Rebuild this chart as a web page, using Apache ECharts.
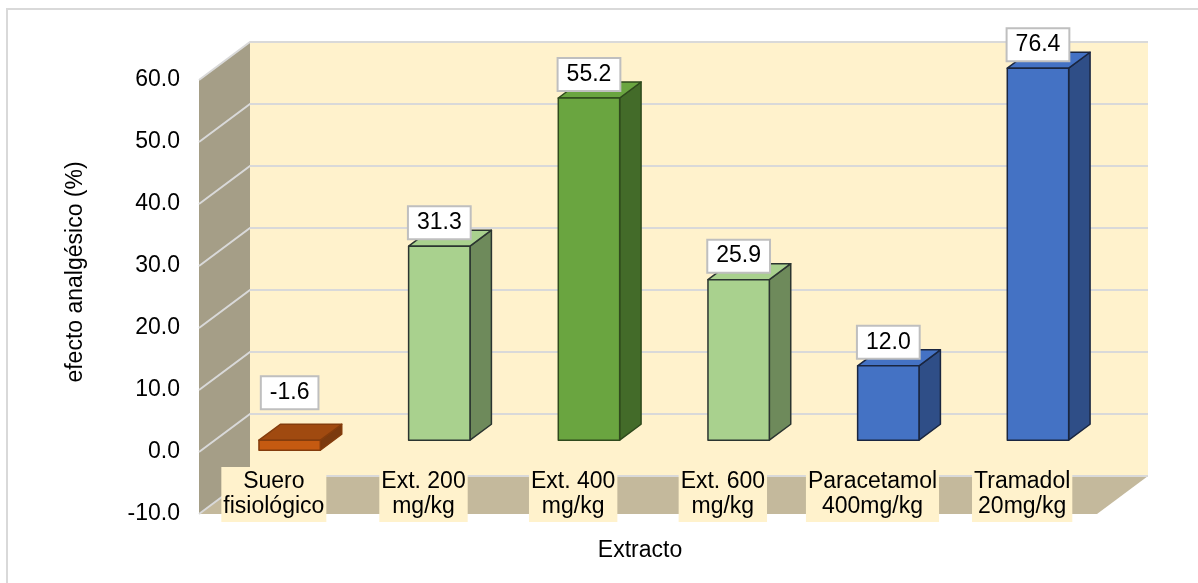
<!DOCTYPE html>
<html>
<head>
<meta charset="utf-8">
<script src="https://cdn.jsdelivr.net/npm/echarts@6/dist/echarts.min.js"></script>
<style>
  html, body { margin: 0; padding: 0; background: #fff; }
  #chart { width: 1198px; height: 583px; }
</style>
</head>
<body>
<div id="chart"></div>
<script>
// Treatments and their analgesic effect (%)
const categories = ['Suero\nfisiológico', 'Ext. 200\nmg/kg', 'Ext. 400\nmg/kg', 'Ext. 600\nmg/kg', 'Paracetamol\n400mg/kg', 'Tramadol\n20mg/kg'];
const values = [-1.6, 31.3, 55.2, 25.9, 12.0, 76.4];

// Value axis range
const yMin = -10;
const yMax = 60;
const yStep = 10;

// Face colours for each bar
const frontColors = ['#c55a11', '#a9d18e', '#6aa540', '#a9d18e', '#4472c4', '#4472c4'];
const topColors   = ['#a04a10', '#a9d18e', '#6aa540', '#a9d18e', '#4472c4', '#4472c4'];
const sideColors  = ['#7b3a0e', '#6e8a5b', '#436b29', '#6e8a5b', '#2f4e87', '#2f4e87'];
const edgeColors  = ['#843c0c', '#2b3530', '#2f4a1d', '#2b3530', '#1a2640', '#1a2640'];

const FONT = "'Liberation Sans', Arial, sans-serif";
const FONT_SIZE = 23;
const DEPTH = [51, -38];          // pixel offset from front plane to back wall
const BAR_FRONT = 0.31;           // bar front face depth (fraction of DEPTH)
const BAR_BACK = 0.73;            // bar back face depth
const BAR_WIDTH = 0.41;           // bar width as share of category band

function clampV(v) { return Math.max(yMin, Math.min(yMax, v)); }

// Left wall, back wall, floor and gridlines of the 3D box
function renderWalls(params, api) {
  const cs = params.coordSys;
  const x0 = cs.x, x1 = cs.x + cs.width;
  const yTop = api.coord([0, yMax])[1];
  const yBot = api.coord([0, yMin])[1];
  const dx = DEPTH[0], dy = DEPTH[1];
  const children = [
    { type: 'polygon', shape: { points: [[x0, yTop], [x0 + dx, yTop + dy], [x0 + dx, yBot + dy], [x0, yBot]] },
      style: { fill: '#a59e87' } },
    { type: 'rect', shape: { x: x0 + dx, y: yTop + dy, width: cs.width, height: yBot - yTop },
      style: { fill: '#fff2cc' } },
    { type: 'polygon', shape: { points: [[x0, yBot], [x1, yBot], [x1 + dx, yBot + dy], [x0 + dx, yBot + dy]] },
      style: { fill: '#c4b99c' } }
  ];
  for (let v = yMin; v <= yMax; v += yStep) {
    const y = api.coord([0, v])[1];
    children.push({
      type: 'polyline',
      shape: { points: [[x0, y], [x0 + dx, y + dy], [x1 + dx, y + dy]] },
      style: { stroke: '#d9d9d9', lineWidth: 2, fill: null }
    });
  }
  return { type: 'group', children: children };
}

// One 3D bar (front, top and side faces) with its value label
function renderBar(params, api) {
  const i = api.value(0);
  const v = api.value(1);
  const k = params.dataIndex;
  const band = api.size([1, 0])[0];
  const w = band * BAR_WIDTH;
  const cx = api.coord([i, 0])[0];
  const fdx = DEPTH[0] * BAR_FRONT, fdy = DEPTH[1] * BAR_FRONT;
  const bdx = DEPTH[0] * (BAR_BACK - BAR_FRONT), bdy = DEPTH[1] * (BAR_BACK - BAR_FRONT);
  const yHi = api.coord([i, clampV(Math.max(v, 0))])[1] + fdy;
  const yLo = api.coord([i, clampV(Math.min(v, 0))])[1] + fdy;
  const xl = cx - w / 2 + fdx, xr = cx + w / 2 + fdx;
  const edge = { stroke: edgeColors[k], lineWidth: 1.5, lineJoin: 'round' };
  const labelY = (v >= 0 ? yHi : yHi - 24) - 8;
  return {
    type: 'group',
    children: [
      { type: 'polygon', shape: { points: [[xr, yHi], [xr + bdx, yHi + bdy], [xr + bdx, yLo + bdy], [xr, yLo]] },
        style: Object.assign({ fill: sideColors[k] }, edge) },
      { type: 'polygon', shape: { points: [[xl, yHi], [xr, yHi], [xr + bdx, yHi + bdy], [xl + bdx, yHi + bdy]] },
        style: Object.assign({ fill: topColors[k] }, edge) },
      { type: 'rect', shape: { x: xl, y: yHi, width: w, height: yLo - yHi },
        style: Object.assign({ fill: frontColors[k] }, edge) },
      { type: 'text', x: cx + fdx, y: labelY, z2: 50,
        style: {
          text: v.toFixed(1), font: FONT_SIZE + 'px ' + FONT, fill: '#000',
          align: 'center', verticalAlign: 'bottom',
          backgroundColor: '#fff', borderColor: '#bfbfbf', borderWidth: 2,
          padding: [4, 8, 4, 8]
        } }
    ]
  };
}

const chart = echarts.init(document.getElementById('chart'), null, { renderer: 'canvas' });
chart.setOption({
  animation: false,
  backgroundColor: '#fff',
  graphic: [{
    type: 'rect', z: -10, silent: true,
    shape: { x: 7, y: 9, width: 1210, height: 600 },
    style: { fill: null, stroke: '#d9d9d9', lineWidth: 2 }
  }],
  grid: { left: 199, right: 101, top: 80, bottom: 69 },
  xAxis: {
    type: 'category',
    z: 10,
    data: categories,
    axisLine: { show: false },
    axisTick: { show: false },
    splitLine: { show: false },
    axisLabel: {
      interval: 0, margin: -47,
      fontFamily: FONT, fontSize: FONT_SIZE, color: '#000', lineHeight: 25,
      backgroundColor: '#fff2cc', padding: [2, 2, 3, 2]
    },
    name: 'Extracto',
    nameLocation: 'middle',
    nameGap: 25,
    nameTextStyle: { fontFamily: FONT, fontSize: FONT_SIZE, color: '#000', padding: [0, 16, 0, 0] }
  },
  yAxis: {
    type: 'value',
    z: 10,
    min: yMin, max: yMax, interval: yStep,
    axisLine: { show: false },
    axisTick: { show: false },
    splitLine: { show: false },
    axisLabel: {
      margin: 19, fontFamily: FONT, fontSize: FONT_SIZE, color: '#000',
      formatter: function (v) { return v.toFixed(1); }
    },
    name: 'efecto analgésico (%)',
    nameLocation: 'middle',
    nameRotate: 90,
    nameGap: 112,
    nameTextStyle: { fontFamily: FONT, fontSize: FONT_SIZE, color: '#000', padding: [0, 0, 0, 50] }
  },
  series: [
    {
      type: 'custom', name: 'walls', z: 1, silent: true,
      renderItem: renderWalls,
      data: [[0, 0]]
    },
    {
      type: 'custom', name: 'efecto', z: 2, clip: false,
      renderItem: renderBar,
      data: values.map(function (v, i) { return [i, v]; })
    }
  ]
});
</script>
</body>
</html>
